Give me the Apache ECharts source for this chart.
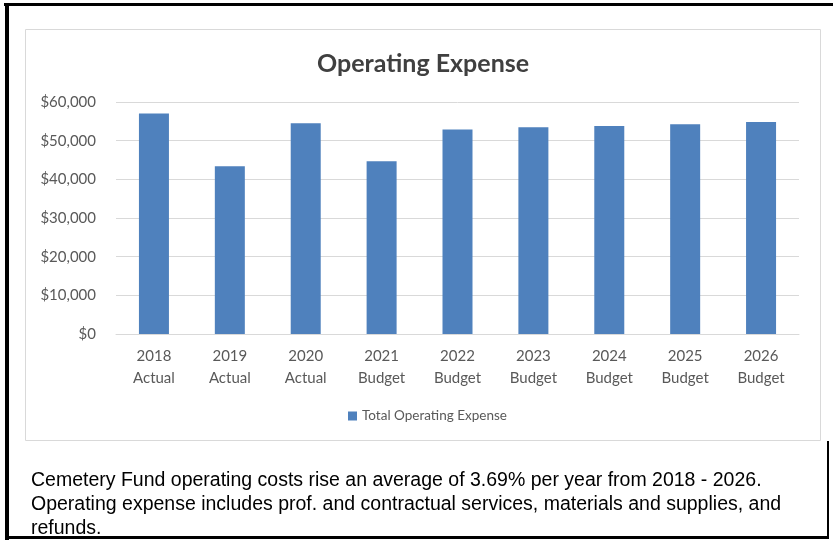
<!DOCTYPE html>
<html>
<head>
<meta charset="utf-8">
<script src="https://cdn.jsdelivr.net/npm/echarts@6/dist/echarts.min.js"></script>
<style>
html,body{margin:0;padding:0;background:#fff;}
#c{width:833px;height:540px;}
</style>
</head>
<body>
<div id="c"></div>
<script>
const categories = ['2018\nActual','2019\nActual','2020\nActual','2021\nBudget','2022\nBudget','2023\nBudget','2024\nBudget','2025\nBudget','2026\nBudget'];
const expense = [57000, 43400, 54500, 44700, 52900, 53450, 53800, 54250, 54850];
const seriesName = 'Total Operating Expense';
const titleText = 'Operating Expense';
const captionLines = [
  'Cemetery Fund operating costs rise an average of 3.69% per year from 2018 - 2026.',
  'Operating expense includes prof. and contractual services, materials and supplies, and',
  'refunds.'
];

const chart = echarts.init(document.getElementById('c'), null, {renderer:'canvas'});
const font = 'Lato, "Open Sans", sans-serif';
const graphics = [
  {type:'rect', shape:{x:4,y:3,width:829,height:3}, style:{fill:'#000'}, silent:true},
  {type:'rect', shape:{x:5,y:3,width:4,height:537}, style:{fill:'#000'}, silent:true},
  {type:'rect', shape:{x:5,y:536,width:824,height:3}, style:{fill:'#000'}, silent:true},
  {type:'rect', shape:{x:827,y:441,width:2,height:98}, style:{fill:'#000'}, silent:true},
  {type:'rect', shape:{x:25.5,y:29.5,width:795,height:411}, style:{fill:'none', stroke:'#d9d9d9', lineWidth:1}, silent:true}
];
captionLines.forEach((t,i)=>{
  graphics.push({type:'text', left:31, top:471 + i*24, style:{text:t, font:'19.5px "Liberation Sans", Arial, sans-serif', fill:'#000'}, silent:true});
});

chart.setOption({
  animation:false,
  title:{text:titleText, left:312, top:46, textStyle:{fontFamily:font, fontSize:25, fontWeight:'bold', color:'#404040'}},
  legend:{data:[seriesName], top:404, left:343, icon:'rect', itemWidth:9, itemHeight:9, itemGap:5,
    textStyle:{fontFamily:font, fontSize:13.5, color:'#595959'}},
  grid:{left:116, right:34, top:102, bottom:206},
  xAxis:{type:'category', data:categories,
    axisLine:{lineStyle:{color:'#d9d9d9'}}, axisTick:{show:false},
    axisLabel:{fontFamily:font, fontSize:15, color:'#595959', lineHeight:22, margin:11, interval:0}},
  yAxis:{type:'value', min:0, max:60000, interval:10000,
    axisLine:{show:false}, axisTick:{show:false},
    splitLine:{lineStyle:{color:'#d9d9d9', width:1}},
    axisLabel:{fontFamily:font, fontSize:15, color:'#595959', margin:20,
      formatter:v=>'$'+v.toLocaleString('en-US')}},
  series:[{name:seriesName, type:'bar', data:expense, barWidth:30,
    itemStyle:{color:'#4f81bd'}}],
  graphic:graphics
});
</script>
</body>
</html>
